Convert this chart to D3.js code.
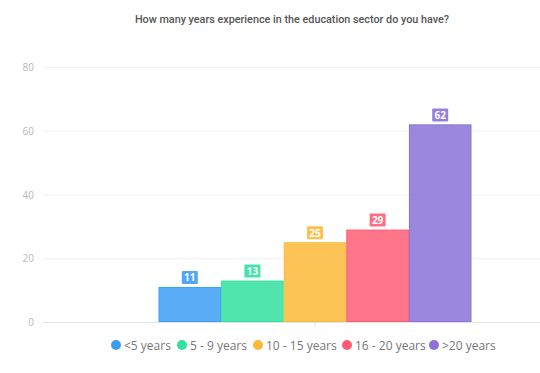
<!DOCTYPE html>
<html>
<head>
<meta charset="utf-8">
<script src="https://cdn.jsdelivr.net/npm/d3@7"></script>
<style>
  body { margin: 0; background: #fff; }
  svg { display: block; }
</style>
</head>
<body>
<svg id="chart" width="540" height="373"></svg>
<script>
var title = "How many years experience in the education sector do you have?";
var category = ["Experience"];
var seriesNames = ["<5 years", "5 - 9 years", "10 - 15 years", "16 - 20 years", ">20 years"];
var seriesValues = [11, 13, 25, 29, 62];
var seriesColors = ["#3d9df5", "#33e0a0", "#fcb93a", "#ff5d75", "#8a72d8"];
var yTicks = [0, 20, 40, 60, 80];

var svg = d3.select("#chart");

var margin = {left: 43, right: -47, top: 67, bottom: 51};
var W = 540, H = 373;

var x = d3.scaleBand()
	.domain(category)
	.range([margin.left, W - margin.right])
	.paddingInner(0)
	.paddingOuter(0.369);

var xs = d3.scaleBand()
	.domain(seriesNames)
	.range([0, x.bandwidth()])
	.padding(0);

var y = d3.scaleLinear()
	.domain([0, 80])
	.range([H - margin.bottom, margin.top]);

// title
svg.append("text")
	.attr("x", 292)
	.attr("y", 23)
	.attr("text-anchor", "middle")
	.attr("font-family", "Roboto, sans-serif")
	.attr("font-size", 10.8)
	.attr("font-weight", 500)
	.attr("fill", "#555")
	.text(title);

// grid lines
svg.append("g")
	.selectAll("line")
	.data(yTicks.filter(function(d){ return d > 0; }))
	.enter().append("line")
	.attr("x1", margin.left)
	.attr("x2", W)
	.attr("y1", function(d){ return y(d) + 0.5; })
	.attr("y2", function(d){ return y(d) + 0.5; })
	.attr("stroke", "#f2f2f2");

// y labels
svg.append("g")
	.selectAll("text")
	.data(yTicks)
	.enter().append("text")
	.attr("x", 34)
	.attr("y", function(d){ return y(d) + 4; })
	.attr("text-anchor", "end")
	.attr("font-family", "'Open Sans', sans-serif")
	.attr("font-size", 10)
	.attr("fill", "#b8b8b8")
	.text(function(d){ return d; });

// x axis
var xAxis = d3.axisBottom(x).tickSize(5).tickFormat("");
svg.append("g")
	.attr("transform", "translate(0," + (y(0) + 0.5) + ")")
	.call(xAxis)
	.call(function(g){
		g.select(".domain").attr("stroke", "#e3e3e3").attr("d", "M" + margin.left + ",0H" + W);
		g.selectAll(".tick line").attr("stroke", "#e3e3e3");
	});

// bars
var bars = svg.append("g")
	.attr("transform", "translate(" + x(category[0]) + ",0)");

bars.selectAll("rect")
	.data(seriesValues)
	.enter().append("rect")
	.attr("x", function(d, i){ return xs(seriesNames[i]) + 0.5; })
	.attr("y", function(d){ return y(d) + 0.5; })
	.attr("width", xs.bandwidth() - 1)
	.attr("height", function(d){ return y(0) - y(d) - 1; })
	.attr("fill", function(d, i){ return seriesColors[i]; })
	.attr("fill-opacity", 0.85)
	.attr("stroke", function(d, i){ return seriesColors[i]; })
	.attr("stroke-width", 1);

// value labels
var labels = bars.selectAll("g.lbl")
	.data(seriesValues)
	.enter().append("g")
	.attr("class", "lbl")
	.attr("transform", function(d, i){
		return "translate(" + (xs(seriesNames[i]) + xs.bandwidth() / 2) + "," + (y(d) - 3) + ")";
	});

labels.append("rect")
	.attr("x", -8)
	.attr("y", -13)
	.attr("width", 16)
	.attr("height", 13)
	.attr("rx", 1)
	.attr("fill", function(d, i){ return seriesColors[i]; })
	.attr("fill-opacity", 0.9);

labels.append("text")
	.attr("y", -2.5)
	.attr("text-anchor", "middle")
	.attr("font-family", "'Open Sans', sans-serif")
	.attr("font-size", 10)
	.attr("font-weight", 700)
	.attr("fill", "#fff")
	.text(function(d){ return d; });

// legend
var legendX = [116, 182, 258, 347, 434];
var legend = svg.append("g")
	.selectAll("g")
	.data(seriesNames)
	.enter().append("g")
	.attr("transform", function(d, i){ return "translate(" + legendX[i] + ",345)"; });

legend.append("circle")
	.attr("r", 5)
	.attr("fill", function(d, i){ return seriesColors[i]; });

legend.append("text")
	.attr("x", 8)
	.attr("y", 4.5)
	.attr("font-family", "'Open Sans', sans-serif")
	.attr("font-size", 12)
	.attr("fill", "#777")
	.text(function(d){ return d; });
</script>
</body>
</html>
